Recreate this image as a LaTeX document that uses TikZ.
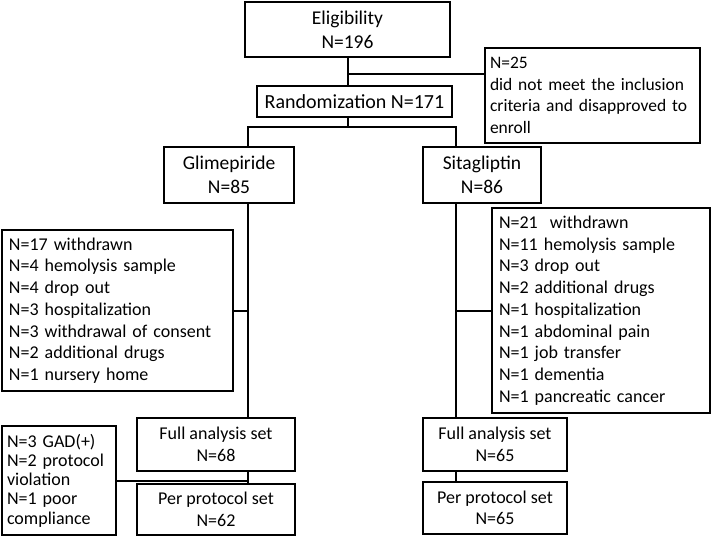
\documentclass[tikz,border=0pt]{standalone}
\usepackage{fontspec}
\setmainfont{Carlito}
\usetikzlibrary{calc}

\begin{document}
\begin{tikzpicture}[x=1pt, y=-1pt, line width=2pt,
    box/.style={draw, align=center, inner sep=0pt, font=\fontsize{19.5}{24}\selectfont},
    setbox/.style={draw, align=center, inner sep=0pt, font=\fontsize{18}{21.5}\selectfont},
    list/.style={draw, align=left, inner xsep=7pt, inner ysep=0pt, font=\fontsize{18}{21.7}\selectfont}]
    \useasboundingbox (0,0) rectangle (712,536);

    % top part
    \node [box, minimum width=205, minimum height=55] (elig) at (347.5,29.5) {Eligibility\\N=196};
    \node [list, minimum width=215, minimum height=95, text width=205, inner xsep=5pt,
        font=\fontsize{17.5}{21.5}\selectfont] (excl) at (592.5,95.5)
        {N=25\\did not meet the inclusion\\criteria and disapproved to\\enroll};
    \node [box, minimum width=195, minimum height=31, font=\fontsize{20}{24}\selectfont] (rand) at (354.5,101.5) {Randomization N=171};
    \coordinate (j1) at (348,74);
    \draw (elig.south -| j1) -- (rand.north -| j1);
    \draw (j1) -- (j1 -| excl.west);

    % arms
    \node [box, minimum width=130, minimum height=56] (glim) at (229,175) {Glimepiride\\N=85};
    \node [box, minimum width=118, minimum height=56] (sita) at (482,175) {Sitagliptin\\N=86};
    \coordinate (gl) at (248,127);
    \coordinate (sl) at (456,127);
    \draw (rand.south -| j1) -- (j1 |- gl);
    \draw (gl |- glim.north) -- (gl) -- (sl) -- (sl |- sita.north);

    % withdrawals
    \node [list, minimum width=231, minimum height=161, text width=217] (wdl) at (117.5,310.5)
        {N=17 withdrawn\\N=4 hemolysis sample\\N=4 drop out\\N=3 hospitalization\\N=3 withdrawal of consent\\N=2 additional drugs\\N=1 nursery home};
    \node [list, minimum width=218, minimum height=205, text width=204] (wdr) at (601,310.5)
        {N=21~ withdrawn\\N=11 hemolysis sample\\N=3 drop out\\N=2 additional drugs\\N=1 hospitalization\\N=1 abdominal pain\\N=1 job transfer\\N=1 dementia\\N=1 pancreatic cancer};

    % analysis sets
    \node [setbox, minimum width=158, minimum height=53] (fasl) at (216,444.5) {Full analysis set\\N=68};
    \node [setbox, minimum width=158, minimum height=51] (ppsl) at (216,509.5) {Per protocol set\\N=62};
    \node [list, minimum width=114, minimum height=109, text width=104, inner xsep=5pt,
        font=\fontsize{18}{19.3}\selectfont] (gad) at (59,480.5)
        {N=3 GAD(+)\\N=2 protocol\\violation\\N=1 poor\\compliance};
    \node [setbox, minimum width=144, minimum height=53] (fasr) at (495,444.5) {Full analysis set\\N=65};
    \node [setbox, minimum width=144, minimum height=52] (ppsr) at (495,508) {Per protocol set\\N=65};

    \draw (gl |- glim.south) -- (gl |- fasl.north);
    \draw (wdl.east) -- (wdl.east -| gl);
    \draw (gl |- fasl.south) -- (gl |- ppsl.north);
    \draw (gad.east) -- (gad.east -| gl);
    \draw (sl |- sita.south) -- (sl |- fasr.north);
    \draw (wdr.west) -- (wdr.west -| sl);
    \draw (sl |- fasr.south) -- (sl |- ppsr.north);
\end{tikzpicture}
\end{document}
